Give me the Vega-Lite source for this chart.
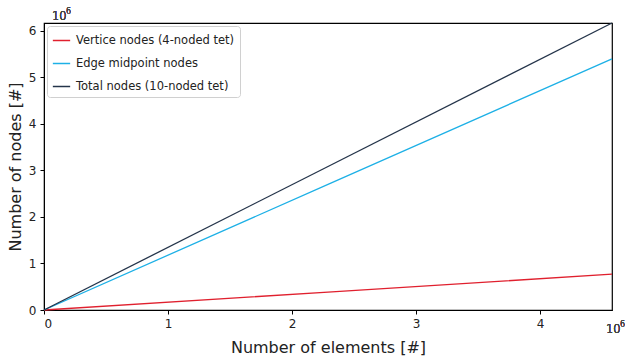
{
  "$schema": "https://vega.github.io/schema/vega-lite/v6.json",
  "width": 568,
  "height": 287,
  "autosize": "none",
  "padding": {"left": 44, "top": 23, "right": 13, "bottom": 51},
  "config": {
    "font": "DejaVu Sans",
    "view": {"stroke": "black", "strokeWidth": 1.2},
    "axis": {
      "grid": false,
      "domain": true,
      "domainColor": "black",
      "tickColor": "black",
      "tickSize": 4,
      "labelColor": "#222",
      "labelFontSize": 12,
      "titleFontSize": 16,
      "titleFontWeight": "normal",
      "titleColor": "#222"
    }
  },
  "data": {
    "values": [
      {"elements": 0, "nodes": 0, "series": "Vertice nodes (4-noded tet)"},
      {"elements": 2290000, "nodes": 385000, "series": "Vertice nodes (4-noded tet)"},
      {"elements": 4580000, "nodes": 770000, "series": "Vertice nodes (4-noded tet)"},
      {"elements": 0, "nodes": 0, "series": "Edge midpoint nodes"},
      {"elements": 2290000, "nodes": 2700000, "series": "Edge midpoint nodes"},
      {"elements": 4580000, "nodes": 5400000, "series": "Edge midpoint nodes"},
      {"elements": 0, "nodes": 0, "series": "Total nodes (10-noded tet)"},
      {"elements": 2290000, "nodes": 3085000, "series": "Total nodes (10-noded tet)"},
      {"elements": 4580000, "nodes": 6170000, "series": "Total nodes (10-noded tet)"}
    ]
  },
  "layer": [
    {
      "mark": {"type": "line", "strokeWidth": 1.3},
      "encoding": {
        "x": {
          "field": "elements", "type": "quantitative",
          "scale": {"domain": [0, 4580000], "nice": false, "zero": true},
          "axis": {"values": [0, 1000000, 2000000, 3000000, 4000000], "labelExpr": "format(datum.value/1000000, 'd')", "title": "Number of elements [#]", "titlePadding": 10, "labelPadding": 4}
        },
        "y": {
          "field": "nodes", "type": "quantitative",
          "scale": {"domain": [0, 6170000], "nice": false},
          "axis": {"values": [0, 1000000, 2000000, 3000000, 4000000, 5000000, 6000000], "labelExpr": "format(datum.value/1000000, 'd')", "title": "Number of nodes [#]", "titlePadding": 5, "labelPadding": 4}
        },
        "color": {
          "field": "series", "type": "nominal",
          "scale": {
            "domain": ["Vertice nodes (4-noded tet)", "Edge midpoint nodes", "Total nodes (10-noded tet)"],
            "range": ["#e0202e", "#1db0e6", "#24344a"]
          },
          "legend": {
            "title": null,
            "orient": "top-left",
            "offset": 3,
            "symbolType": "stroke",
            "symbolSize": 300,
            "symbolStrokeWidth": 1.5,
            "labelFontSize": 11.5,
            "labelLimit": 400,
            "labelColor": "#222",
            "labelOffset": 5,
            "rowPadding": 8,
            "padding": 5,
            "strokeColor": "#d0d0d0",
            "fillColor": "white",
            "cornerRadius": 3
          }
        }
      }
    },
    {
      "mark": {"type": "text", "align": "left", "baseline": "bottom", "dx": 8, "dy": -1, "fontSize": 11.5, "fontWeight": 300, "color": "#444"},
      "encoding": {
        "x": {"datum": 0, "type": "quantitative"},
        "y": {"datum": 6170000, "type": "quantitative"},
        "text": {"value": "10"}
      }
    },
    {
      "mark": {"type": "text", "align": "left", "baseline": "bottom", "dx": 22, "dy": -7, "fontSize": 8, "fontWeight": 300, "color": "#444"},
      "encoding": {
        "x": {"datum": 0, "type": "quantitative"},
        "y": {"datum": 6170000, "type": "quantitative"},
        "text": {"value": "6"}
      }
    },
    {
      "mark": {"type": "text", "align": "left", "baseline": "middle", "dx": -6, "dy": 20, "fontSize": 11.5, "fontWeight": 300, "color": "#444"},
      "encoding": {
        "x": {"datum": 4580000, "type": "quantitative"},
        "y": {"datum": 0, "type": "quantitative"},
        "text": {"value": "10"}
      }
    },
    {
      "mark": {"type": "text", "align": "left", "baseline": "middle", "dx": 8, "dy": 15, "fontSize": 8, "fontWeight": 300, "color": "#444"},
      "encoding": {
        "x": {"datum": 4580000, "type": "quantitative"},
        "y": {"datum": 0, "type": "quantitative"},
        "text": {"value": "6"}
      }
    }
  ]
}
